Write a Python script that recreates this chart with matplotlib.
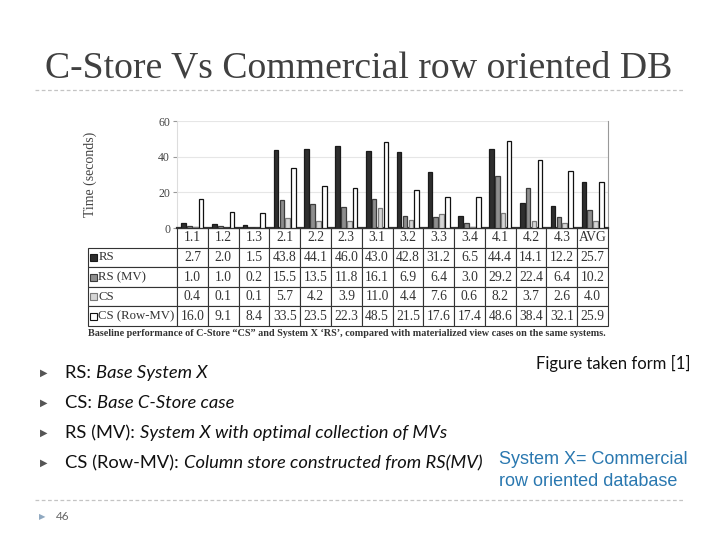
import numpy as np
import matplotlib
matplotlib.use('Agg')
import matplotlib.pyplot as plt
from matplotlib.patches import Rectangle
from matplotlib.lines import Line2D

# data
queries = ['1.1', '1.2', '1.3', '2.1', '2.2', '2.3', '3.1', '3.2', '3.3', '3.4', '4.1', '4.2', '4.3', 'AVG']
rs = [2.7, 2.0, 1.5, 43.8, 44.1, 46.0, 43.0, 42.8, 31.2, 6.5, 44.4, 14.1, 12.2, 25.7]
rs_mv = [1.0, 1.0, 0.2, 15.5, 13.5, 11.8, 16.1, 6.9, 6.4, 3.0, 29.2, 22.4, 6.4, 10.2]
cs = [0.4, 0.1, 0.1, 5.7, 4.2, 3.9, 11.0, 4.4, 7.6, 0.6, 8.2, 3.7, 2.6, 4.0]
cs_row_mv = [16.0, 9.1, 8.4, 33.5, 23.5, 22.3, 48.5, 21.5, 17.6, 17.4, 48.6, 38.4, 32.1, 25.9]

series_names = ['RS', 'RS (MV)', 'CS', 'CS (Row-MV)']
series_vals = [rs, rs_mv, cs, cs_row_mv]
fills = ['#2e2e2e', '#8e8e8e', '#d6d6d6', '#ffffff']
edges = ['#1a1a1a', '#3c3c3c', '#7a7a7a', '#111111']

bullets = [('RS: ', 'Base System X'),
           ('CS: ', 'Base C-Store case'),
           ('RS (MV): ', 'System X with optimal collection of MVs'),
           ('CS (Row-MV): ', 'Column store constructed from RS(MV)')]

W, H = 720, 540
fig = plt.figure(figsize=(7.2, 5.4), dpi=100)

def px(x, y):
    return x / W, 1 - y / H

# slide title + rules
fig.text(*px(45, 68), 'C-Store Vs Commercial row oriented DB', family='Liberation Serif',
         fontsize=27.2, color='#404040', va='center', ha='left')
for yy in (90, 500):
    fig.add_artist(Line2D([35 / W, 685 / W], [1 - yy / H] * 2, transform=fig.transFigure,
                          color='#c4c4c4', lw=0.9, ls=(0, (3, 2))))

# chart
ax_l, ax_r, ax_t, ax_b = 177, 608, 121, 228
ax = fig.add_axes([ax_l / W, 1 - ax_b / H, (ax_r - ax_l) / W, (ax_b - ax_t) / H])
x = np.arange(len(queries))
for k in range(4):
    ax.bar(x + (k - 1.5) * 0.19, series_vals[k], width=0.15, color=fills[k],
           edgecolor=edges[k], linewidth=0.9, zorder=3)
ax.set_xlim(-0.5, len(queries) - 0.5)
ax.set_ylim(0, 60)
ax.set_yticks([0, 20, 40, 60])
ax.set_yticklabels(['0', '20', '40', '60'], family='Liberation Serif', fontsize=8.5, color='#444444')
ax.set_xticks([])
ax.tick_params(axis='y', length=3, color='#999999', pad=2)
ax.grid(axis='y', color='#e6e6e6', lw=0.8, zorder=0)
ax.spines['top'].set_visible(False)
ax.spines['left'].set_color('#dddddd')
ax.spines['right'].set_color('#999999')
ax.spines['bottom'].set_color('#333333')
ax.spines['bottom'].set_linewidth(1.6)
ax.set_ylabel('Time (seconds)', family='Liberation Serif', fontsize=10, color='#444444')
ax.yaxis.set_label_coords(-(ax_l - 97) / (ax_r - ax_l), 0.5)

# data table under the bars (first column holds the row labels)
aw = ax_r - ax_l
ah = ax_b - ax_t
lab_w = (ax_l - 88) / aw
cell_text = [[name] + [f'{v:.1f}' for v in vals] for name, vals in zip(series_names, series_vals)]
tbl = ax.table(cellText=cell_text, colLabels=[''] + queries, cellLoc='center',
               colWidths=[lab_w] + [1 / len(queries)] * len(queries),
               bbox=[-lab_w, -98 / ah, 1 + lab_w, 98 / ah])
tbl.auto_set_font_size(False)
tbl.set_fontsize(9.8)
for (r, c), cell in tbl.get_celld().items():
    cell.set_edgecolor('#333333')
    cell.set_linewidth(0.8)
    cell.get_text().set_family('Liberation Serif')
    cell.get_text().set_color('#333333')
    cell.PAD = 0.04
    if c == 0:
        cell.PAD = 0.115
        cell.get_text().set_ha('left')
        cell.get_text().set_fontsize(9.2)
        if r == 0:
            cell.visible_edges = 'open'

row_h = 98 / ah / 5
for i in range(4):
    cy = -(i + 1.5) * row_h
    ax.add_patch(Rectangle((-(ax_l - 90) / aw, cy - 3.5 / ah), 7 / aw, 7 / ah,
                           transform=ax.transAxes, clip_on=False, facecolor=fills[i],
                           edgecolor=edges[i], lw=0.8, zorder=5))

fig.text(*px(88, 333), 'Baseline performance of C-Store \u201cCS\u201d and System X \u2018RS\u2019, '
         'compared with materialized view cases on the same systems.',
         family='Liberation Serif', fontweight='bold', fontsize=7.3, color='#333333',
         va='center', ha='left')

# bullets
renderer = fig.canvas.get_renderer()
for i, (head, rest) in enumerate(bullets):
    yy = 373 + 30 * i
    fig.text(*px(44, yy), '\u25b6', fontsize=7, color='#555555', va='center', ha='center',
             family='DejaVu Sans')
    t1 = fig.text(*px(65, yy), head, family='Lato', fontsize=13.2, color='#111111', va='center')
    w1 = t1.get_window_extent(renderer).width
    fig.text((65 + w1) / W, 1 - yy / H, rest, family='Lato', style='italic', fontsize=13.2,
             color='#111111', va='center')

fig.text(*px(690, 363), 'Figure taken form [1]', family='Lato', fontsize=12,
         color='#111111', va='center', ha='right')
fig.text(*px(499, 459), 'System X= Commercial', family='Liberation Sans', fontsize=13,
         color='#2a78b0', va='center', ha='left')
fig.text(*px(499, 481), 'row oriented database', family='Liberation Sans', fontsize=13,
         color='#2a78b0', va='center', ha='left')

# page number
fig.text(*px(42, 517), '\u25b6', fontsize=6, color='#8fa8c0', va='center', ha='center',
         family='DejaVu Sans')
fig.text(*px(56, 517), '46', family='Lato', fontsize=8.5, color='#666666', va='center', ha='left')

fig.savefig('out.png', dpi=100)
